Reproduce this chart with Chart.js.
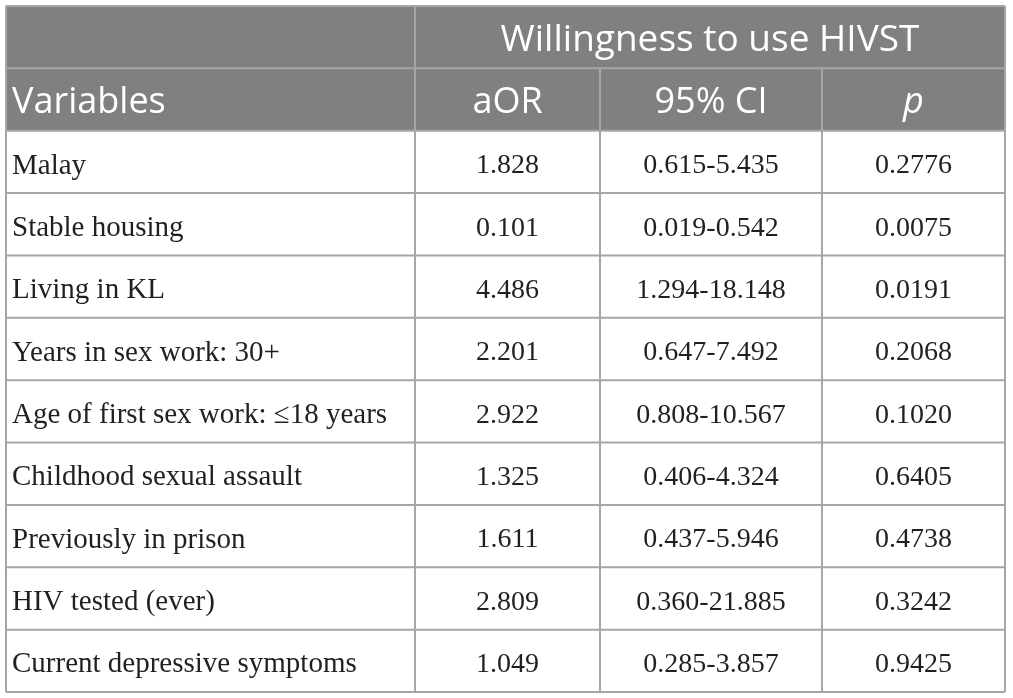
<!DOCTYPE html>
<html>
<head>
<meta charset="utf-8">
<script src="https://cdn.jsdelivr.net/npm/chart.js@4/dist/chart.umd.min.js"></script>
<style>
  html, body { margin: 0; padding: 0; background: #fff; }
  #wrap { width: 1013px; height: 698px; }
</style>
</head>
<body>
<div id="wrap"><canvas id="tabela"></canvas></div>
<script>
// --- dados da tabela ---
const groupTitle = 'Willingness to use HIVST';
const columnTitles = ['Variables', 'aOR', '95% CI', 'p'];
const variables = [
  'Malay',
  'Stable housing',
  'Living in KL',
  'Years in sex work: 30+',
  'Age of first sex work: \u226418 years',
  'Childhood sexual assault',
  'Previously in prison',
  'HIV tested (ever)',
  'Current depressive symptoms'
];
const aOR = [1.828, 0.101, 4.486, 2.201, 2.922, 1.325, 1.611, 2.809, 1.049];
const ciLow = [0.615, 0.019, 1.294, 0.647, 0.808, 0.406, 0.437, 0.360, 0.285];
const ciHigh = [5.435, 0.542, 18.148, 7.492, 10.567, 4.324, 5.946, 21.885, 3.857];
const pValues = [0.2776, 0.0075, 0.0191, 0.2068, 0.1020, 0.6405, 0.4738, 0.3242, 0.9425];

// linhas: 2 de cabecalho + variaveis
const rowKeys = ['head1', 'head2', ...variables];
// limites das colunas (fracao da largura)
const colEdges = [0, 0.4094, 0.5946, 0.8168, 1];

const headerGray = '#808080';
const lineGray = '#a6a6a6';
const serif = '"Liberation Serif", "DejaVu Serif", serif';
const sans = '"Open Sans", "Noto Sans", sans-serif';

// plugin que desenha linhas e textos usando as escalas do grafico
const tabelaPlugin = {
  id: 'tabela',
  afterDatasetsDraw(chart) {
    const { ctx, scales: { x, y } } = chart;
    const rowTop = i => (i === 0 ? y.top : (y.getPixelForValue(i - 1) + y.getPixelForValue(i)) / 2);
    const rowBot = i => (i === rowKeys.length - 1 ? y.bottom : (y.getPixelForValue(i) + y.getPixelForValue(i + 1)) / 2);
    const colX = c => x.getPixelForValue(colEdges[c]);
    const colMid = c => (colX(c) + colX(c + 1)) / 2;

    ctx.save();
    ctx.strokeStyle = lineGray;
    ctx.lineWidth = 2;
    // horizontais
    for (let i = 0; i <= rowKeys.length; i++) {
      const yy = i === rowKeys.length ? y.bottom : rowTop(i);
      ctx.beginPath(); ctx.moveTo(x.left, yy); ctx.lineTo(x.right, yy); ctx.stroke();
    }
    // verticais
    for (let c = 0; c < colEdges.length; c++) {
      const xx = colX(c);
      const y0 = (c === 0 || c === 1 || c === colEdges.length - 1) ? y.top : rowBot(0);
      ctx.beginPath(); ctx.moveTo(xx, y0); ctx.lineTo(xx, y.bottom); ctx.stroke();
    }

    // cabecalho
    ctx.fillStyle = '#fff';
    ctx.textBaseline = 'middle';
    ctx.font = '37px ' + sans;
    ctx.textAlign = 'center';
    ctx.fillText(groupTitle, (colX(1) + colX(4)) / 2, y.getPixelForValue(0) + 3);
    const h2 = y.getPixelForValue(1) + 3;
    ctx.font = '36px ' + sans;
    ctx.textAlign = 'left';
    ctx.fillText(columnTitles[0], colX(0) + 6, h2);
    ctx.textAlign = 'center';
    ctx.fillText(columnTitles[1], colMid(1), h2);
    ctx.fillText(columnTitles[2], colMid(2), h2);
    ctx.font = 'italic 36px ' + sans;
    ctx.fillText(columnTitles[3], colMid(3), h2);

    // corpo
    ctx.fillStyle = '#231f20';
    variables.forEach((v, i) => {
      const yy = y.getPixelForValue(i + 2) + 4;
      ctx.font = '29px ' + serif;
      ctx.textAlign = 'left';
      ctx.fillText(v, colX(0) + 6, yy);
      ctx.font = '28px ' + serif;
      ctx.textAlign = 'center';
      ctx.fillText(aOR[i].toFixed(3), colMid(1), yy);
      ctx.fillText(ciLow[i].toFixed(3) + '-' + ciHigh[i].toFixed(3), colMid(2), yy);
      ctx.fillText(pValues[i].toFixed(4), colMid(3), yy);
    });
    ctx.restore();
  }
};

new Chart(document.getElementById('tabela'), {
  type: 'bar',
  data: {
    labels: rowKeys,
    datasets: [{
      label: 'cabecalho',
      data: rowKeys.map((k, i) => (i < 2 ? [0, 1] : null)),
      backgroundColor: headerGray,
      borderWidth: 0,
      barPercentage: 1,
      categoryPercentage: 1
    }]
  },
  options: {
    indexAxis: 'y',
    responsive: true,
    maintainAspectRatio: false,
    animation: false,
    layout: { padding: { left: 6, right: 8, top: 6, bottom: 6 } },
    plugins: { legend: { display: false }, tooltip: { enabled: false } },
    scales: {
      x: { type: 'linear', min: 0, max: 1, display: false },
      y: { type: 'category', display: false, offset: true }
    }
  },
  plugins: [tabelaPlugin]
});
</script>
</body>
</html>
